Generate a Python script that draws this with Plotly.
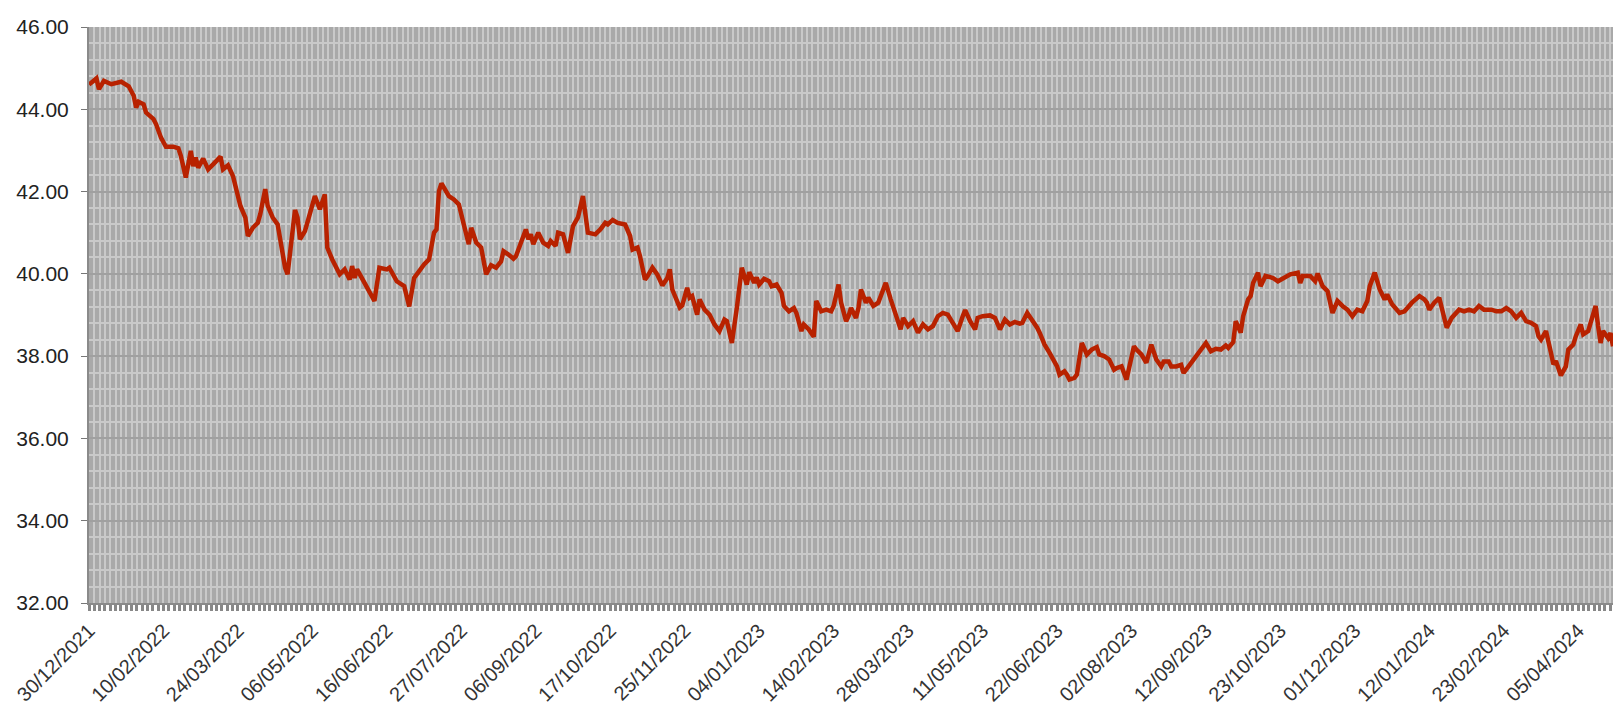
import plotly.graph_objects as go

# trading-day index of each sampled point (0 = 30/12/2021)
day_index = [
    0, 1, 3, 4, 6, 9, 13, 16, 18, 19, 20, 22, 23, 26, 27, 29, 31, 34, 36, 37,
    39, 41, 42, 43, 44, 46, 48, 50, 53, 54, 56, 58, 61, 63, 64, 66, 68, 69, 71, 72,
    74, 76, 77, 79, 80, 81, 83, 84, 85, 87, 89, 91, 93, 95, 96, 98, 101, 103, 105, 106,
    107, 108, 111, 115, 117, 120, 121, 124, 127, 129, 131, 133, 135, 137, 139, 140, 141, 142, 145, 147,
    149, 151, 153, 154, 156, 158, 160, 162, 164, 166, 167, 169, 171, 172, 174, 176, 177, 178, 179, 181,
    183, 185, 186, 188, 189, 191, 193, 195, 197, 199, 201, 204, 206, 208, 209, 211, 213, 216, 218, 219,
    221, 222, 224, 225, 227, 229, 231, 233, 234, 235, 238, 239, 241, 242, 243, 245, 246, 248, 250, 252,
    254, 256, 257, 259, 261, 263, 264, 265, 266, 268, 269, 270, 272, 274, 275, 277, 279, 280, 282, 284,
    285, 287, 288, 290, 292, 293, 295, 297, 299, 300, 302, 303, 305, 306, 307, 309, 310, 311, 313, 314,
    316, 318, 319, 321, 323, 325, 327, 328, 330, 332, 334, 336, 338, 340, 342, 344, 346, 348, 350, 352,
    353, 355, 357, 358, 360, 363, 365, 367, 369, 371, 373, 375, 376, 378, 380, 382, 383, 385, 387, 388,
    390, 391, 393, 394, 395, 397, 398, 400, 402, 404, 406, 407, 409, 411, 413, 414, 416, 418, 419, 421,
    422, 424, 426, 428, 430, 432, 433, 435, 436, 438, 440, 441, 443, 445, 447, 449, 450, 452, 454, 456,
    458, 459, 461, 462, 464, 465, 467, 468, 469, 471, 472, 474, 477, 479, 481, 484, 487, 488, 489, 492,
    494, 495, 497, 499, 501, 503, 505, 507, 509, 511, 513, 515, 516, 518, 520, 522, 523, 525, 528, 530,
    533, 536, 538, 539, 540, 542, 544, 546, 547, 549, 552, 554, 556, 558, 560, 562, 565, 567, 569, 571,
    573, 575, 577, 579, 581, 583, 584, 585, 587, 589, 590, 591, 593, 595, 596, 598, 599, 601, 602, 604,
    605, 607, 608, 609, 610, 612, 613, 614,
]

price = [
    44.60, 44.65, 44.75, 44.49, 44.69, 44.61, 44.67, 44.56, 44.33, 44.04, 44.18, 44.12, 43.92, 43.76, 43.64, 43.31, 43.09, 43.09, 43.05, 42.87,
    42.34, 42.99, 42.62, 42.83, 42.58, 42.80, 42.54, 42.66, 42.85, 42.54, 42.64, 42.38, 41.65, 41.37, 40.92, 41.12, 41.24, 41.45, 42.06, 41.65,
    41.37, 41.20, 40.84, 40.15, 39.99, 40.50, 41.55, 41.37, 40.84, 41.04, 41.45, 41.89, 41.57, 41.93, 40.64, 40.35, 39.99, 40.11, 39.86, 40.19,
    39.90, 40.11, 39.78, 39.34, 40.15, 40.11, 40.15, 39.82, 39.70, 39.21, 39.90, 40.07, 40.23, 40.35, 41.00, 41.08, 42.01, 42.20, 41.89, 41.81,
    41.69, 41.20, 40.72, 41.12, 40.76, 40.64, 39.99, 40.21, 40.15, 40.30, 40.55, 40.47, 40.37, 40.43, 40.72, 41.08, 40.84, 40.96, 40.72, 41.00,
    40.76, 40.68, 40.80, 40.68, 41.00, 40.96, 40.51, 41.16, 41.37, 41.89, 41.00, 40.96, 41.08, 41.24, 41.20, 41.31, 41.24, 41.20, 40.92, 40.59,
    40.64, 40.43, 39.86, 39.94, 40.15, 39.98, 39.72, 39.90, 40.11, 39.62, 39.18, 39.23, 39.66, 39.42, 39.46, 39.01, 39.38, 39.13, 39.01, 38.77,
    38.61, 38.89, 38.85, 38.32, 39.17, 40.15, 39.95, 39.74, 40.04, 39.78, 39.91, 39.74, 39.88, 39.82, 39.70, 39.74, 39.54, 39.22, 39.09, 39.17,
    39.05, 38.61, 38.77, 38.65, 38.47, 39.34, 39.09, 39.13, 39.09, 39.22, 39.74, 39.30, 38.85, 38.97, 39.17, 38.93, 39.17, 39.62, 39.30, 39.42,
    39.22, 39.30, 39.46, 39.78, 39.38, 38.97, 38.65, 38.93, 38.73, 38.85, 38.57, 38.77, 38.65, 38.73, 38.97, 39.05, 39.01, 38.81, 38.61, 38.97,
    39.12, 38.85, 38.65, 38.93, 38.97, 38.99, 38.93, 38.65, 38.89, 38.77, 38.83, 38.79, 38.81, 39.05, 38.89, 38.69, 38.57, 38.28, 38.08, 37.96,
    37.75, 37.55, 37.63, 37.55, 37.43, 37.47, 37.55, 38.32, 38.04, 38.16, 38.22, 38.04, 38.00, 37.92, 37.67, 37.71, 37.75, 37.43, 37.71, 38.24,
    38.16, 38.04, 37.84, 38.28, 37.92, 37.75, 37.87, 37.87, 37.75, 37.75, 37.79, 37.59, 37.75, 37.92, 38.08, 38.26, 38.32, 38.12, 38.18, 38.16,
    38.26, 38.20, 38.34, 38.85, 38.57, 38.97, 39.38, 39.46, 39.78, 40.03, 39.70, 39.95, 39.90, 39.82, 39.90, 39.99, 40.03, 39.78, 39.95, 39.95,
    39.82, 40.01, 39.70, 39.58, 39.05, 39.34, 39.22, 39.13, 38.97, 39.13, 39.09, 39.34, 39.70, 40.03, 39.62, 39.38, 39.50, 39.26, 39.05, 39.09,
    39.30, 39.46, 39.38, 39.30, 39.13, 39.30, 39.42, 38.85, 38.69, 38.93, 39.13, 39.09, 39.13, 39.09, 39.22, 39.13, 39.13, 39.09, 39.09, 39.17,
    39.09, 38.93, 39.05, 38.85, 38.81, 38.73, 38.48, 38.40, 38.61, 38.08, 37.80, 37.88, 37.53, 37.75, 38.16, 38.28, 38.48, 38.77, 38.53, 38.61,
    38.85, 39.22, 38.73, 38.32, 38.61, 38.44, 38.56, 38.24,
]

tick_index = [0, 30, 60, 90, 120, 150, 180, 210, 240, 270, 300, 330, 360, 390, 420, 450, 480, 510, 540, 570, 600]
tick_labels = [
    "30/12/2021", "10/02/2022", "24/03/2022", "06/05/2022", "16/06/2022", "27/07/2022",
    "06/09/2022", "17/10/2022", "25/11/2022", "04/01/2023", "14/02/2023", "28/03/2023",
    "11/05/2023", "22/06/2023", "02/08/2023", "12/09/2023", "23/10/2023", "01/12/2023",
    "12/01/2024", "23/02/2024", "05/04/2024",
]

fig = go.Figure()
fig.add_trace(go.Scatter(
    x=day_index, y=price, mode="lines",
    line=dict(color="#B82200", width=4.5),
    hoverinfo="skip", showlegend=False,
))

fig.update_layout(
    width=1613, height=708,
    margin=dict(l=89, r=0, t=27, b=105, autoexpand=False),
    paper_bgcolor="white",
    plot_bgcolor="#A9A9A9",
    font=dict(family="Liberation Sans, Arial, sans-serif", size=21, color="#222222"),
)

fig.update_xaxes(
    automargin=False,
    range=[0, 614],
    tickmode="array", tickvals=tick_index, ticktext=tick_labels,
    tickangle=-45,
    tickfont=dict(size=20, color="#333333"),
    ticks="outside", ticklen=6, tickwidth=3, tickcolor="#888888",
    showgrid=True, gridcolor="#C9C9C9", gridwidth=2,
    showline=True, linecolor="#8A8A8A", linewidth=2,
    zeroline=False,
    minor=dict(dtick=30 / 14, tick0=0, showgrid=True, gridcolor="#C9C9C9", gridwidth=2,
               ticks="outside", ticklen=6, tickwidth=3, tickcolor="#888888"),
)

fig.update_yaxes(
    automargin=False,
    range=[32, 46],
    tickmode="linear", tick0=32, dtick=2, tickformat=".2f",
    tickfont=dict(size=21, color="#222222"),
    ticks="outside", ticklen=6, tickwidth=1, tickcolor="#777777",
    ticklabelstandoff=8,
    showgrid=True, gridcolor="#A0A0A0", gridwidth=2,
    showline=True, linecolor="#8A8A8A", linewidth=2,
    zeroline=False,
    minor=dict(dtick=0.4, showgrid=True, gridcolor="#C9C9C9", gridwidth=2),
)

fig.write_html(
    "out.html",
    config={"displayModeBar": False},
    post_script="document.body.style.margin='0';document.body.style.overflow='hidden';",
)
